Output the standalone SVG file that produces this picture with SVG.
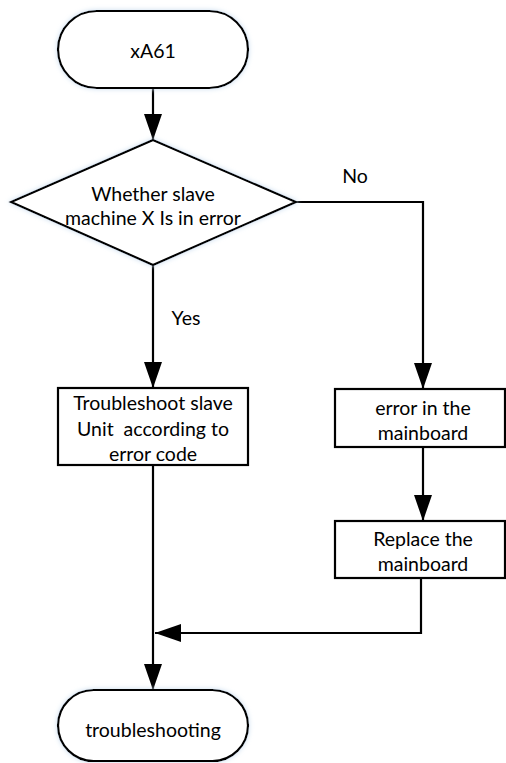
<svg xmlns="http://www.w3.org/2000/svg" width="506" height="763" viewBox="0 0 506 763">
<style>
.shape{fill:#fff;stroke:#000;stroke-width:2.2}
.edge{fill:none;stroke:#000;stroke-width:2.2}
text{font-family:Lato,"Open Sans","Liberation Sans",sans-serif;font-size:19.5px;fill:#000;text-anchor:middle;dominant-baseline:central;white-space:pre}
</style>
<defs>
<marker id="arr" viewBox="0 0 26 18" refX="26" refY="9" markerWidth="26" markerHeight="18" markerUnits="userSpaceOnUse" orient="auto">
<path d="M0,0 L26,9 L0,18 Z" fill="#000"/>
</marker>
<filter id="glow" x="-10%" y="-10%" width="120%" height="120%">
<feGaussianBlur in="SourceAlpha" stdDeviation="2.5" result="b"/>
<feFlood flood-color="#c9dcef" result="c"/>
<feComposite in="c" in2="b" operator="in" result="s"/>
<feMerge><feMergeNode in="s"/><feMergeNode in="SourceGraphic"/></feMerge>
</filter>
</defs>
<g id="connectors">
<path class="edge" d="M153,88 L153,140" marker-end="url(#arr)"/>
<path class="edge" d="M296,202 L423,202 L423,389" marker-end="url(#arr)"/>
<path class="edge" d="M153,265 L153,388" marker-end="url(#arr)"/>
<path class="edge" d="M423,447 L423,521" marker-end="url(#arr)"/>
<path class="edge" d="M421,578 L421,633 L155,633" marker-end="url(#arr)"/>
<path class="edge" d="M153,465 L153,690" marker-end="url(#arr)"/>
<text x="355" y="175">No</text>
<text x="186" y="317">Yes</text>
</g>
<g id="start">
<rect class="shape" x="58" y="11" width="190" height="77" rx="38.5" ry="38.5" filter="url(#glow)"/>
<text x="153" y="50">xA61</text>
</g>
<g id="decision">
<polygon class="shape" points="153,140 296,202 153,265 11,202" filter="url(#glow)"/>
<text x="153" y="193">Whether slave</text>
<text x="153" y="217">machine X Is in error</text>
</g>
<g id="troubleshoot">
<rect class="shape" x="58" y="388" width="190" height="77"/>
<text x="153" y="402">Troubleshoot slave</text>
<text x="153" y="428" xml:space="preserve">Unit  according to</text>
<text x="153" y="453">error code</text>
</g>
<g id="error-mainboard">
<rect class="shape" x="335" y="389" width="170" height="58"/>
<text x="423" y="407">error in the</text>
<text x="423" y="432">mainboard</text>
</g>
<g id="replace">
<rect class="shape" x="335" y="521" width="170" height="57"/>
<text x="423" y="538">Replace the</text>
<text x="423" y="563">mainboard</text>
</g>
<g id="end">
<rect class="shape" x="58" y="690" width="190" height="71" rx="35.5" ry="35.5" filter="url(#glow)"/>
<text x="153" y="729">troubleshooting</text>
</g>
</svg>
